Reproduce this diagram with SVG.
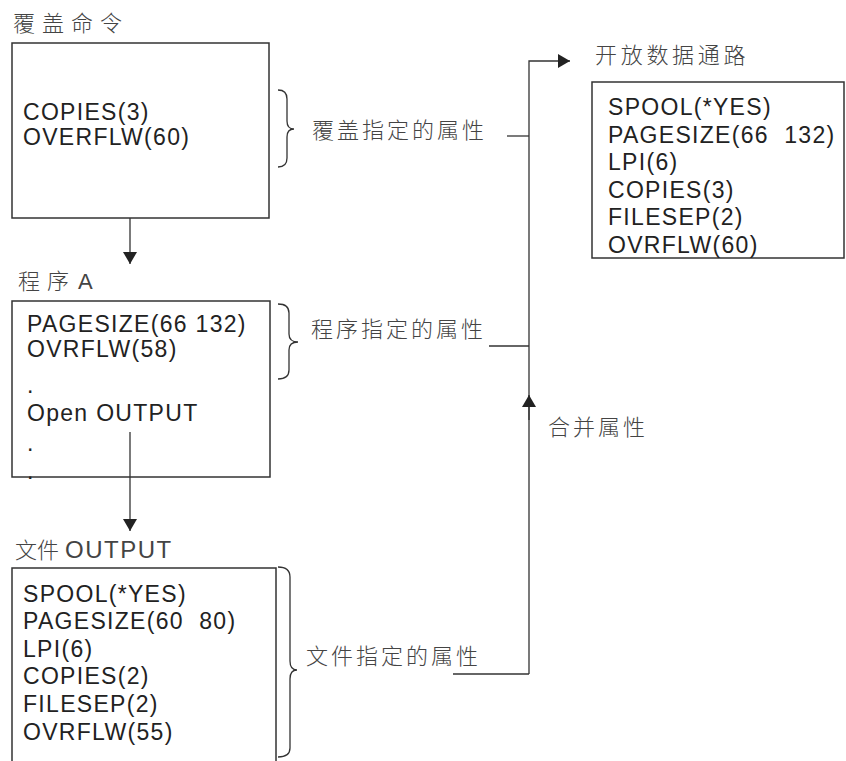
<svg xmlns="http://www.w3.org/2000/svg" width="846" height="761" viewBox="0 0 846 761">
  <style>
    .box { fill: #fff; stroke: #333; stroke-width: 1.5; }
    .attr { font-family: "Liberation Sans", Arial, "Noto Sans CJK SC", sans-serif; font-size: 23px; letter-spacing: 1.3px; fill: #222; white-space: pre; }
    .title { font-family: "Liberation Sans", "Noto Sans CJK SC", sans-serif; font-size: 22px; fill: #444; font-weight: 300; letter-spacing: 7px; }
    .label { font-family: "Noto Sans CJK SC", sans-serif; font-size: 22px; fill: #444; font-weight: 300; letter-spacing: 3px; }
    .wire { fill: none; stroke: #333; stroke-width: 1.3; }
    .brace { fill: none; stroke: #333; stroke-width: 1.3; }
  </style>
  <defs>
    <marker id="head" markerUnits="userSpaceOnUse" markerWidth="14" markerHeight="15" refX="13" refY="7.5" orient="auto">
      <path d="M1,0.5 L13,7.5 L1,14.5 Z" fill="#222"/>
    </marker>
  </defs>

  <rect width="846" height="761" fill="#fff"/>

  <!-- Override command -->
  <g id="override-cmd">
    <text class="title" x="13" y="31">覆盖命令</text>
    <rect class="box" x="12" y="43" width="257" height="175"/>
    <text class="attr" x="23" y="120">COPIES(3)</text>
    <text class="attr" x="23" y="145">OVERFLW(60)</text>
  </g>

  <!-- Program A -->
  <g id="program-a">
    <text class="title" x="18" y="289">程序<tspan x="78">A</tspan></text>
    <rect class="box" x="12" y="301" width="258" height="176"/>
    <text class="attr" x="27" y="332">PAGESIZE(66 132)</text>
    <text class="attr" x="27" y="357">OVRFLW(58)</text>
    <text class="attr" x="27" y="393">.</text>
    <text class="attr" x="27" y="421">Open OUTPUT</text>
    <text class="attr" x="27" y="451">.</text>
    <text class="attr" x="27" y="479">.</text>
  </g>

  <!-- File OUTPUT -->
  <g id="file-output">
    <text class="title" x="15" y="558" style="letter-spacing:0">文件<tspan x="65" style="font-size:24px;letter-spacing:1.5px">OUTPUT</tspan></text>
    <rect class="box" x="12" y="568" width="264" height="210"/>
    <text class="attr" x="23" y="602">SPOOL(*YES)</text>
    <text class="attr" x="23" y="629" xml:space="preserve">PAGESIZE(60  80)</text>
    <text class="attr" x="23" y="657">LPI(6)</text>
    <text class="attr" x="23" y="684">COPIES(2)</text>
    <text class="attr" x="23" y="712">FILESEP(2)</text>
    <text class="attr" x="23" y="740">OVRFLW(55)</text>
  </g>

  <!-- Open data path -->
  <g id="open-data-path">
    <text class="title" x="595" y="63" style="letter-spacing:3.7px">开放数据通路</text>
    <rect class="box" x="592" y="82" width="252" height="176"/>
    <text class="attr" x="608" y="115">SPOOL(*YES)</text>
    <text class="attr" x="608" y="143" xml:space="preserve">PAGESIZE(66  132)</text>
    <text class="attr" x="608" y="170">LPI(6)</text>
    <text class="attr" x="608" y="198">COPIES(3)</text>
    <text class="attr" x="608" y="225">FILESEP(2)</text>
    <text class="attr" x="608" y="253">OVRFLW(60)</text>
  </g>

  <!-- Attribute groups: braces and labels -->
  <g id="override-attrs">
    <path class="brace" d="M278,90 Q287,90 287,99 V121 Q287,129 294,129 Q287,129 287,137 V158 Q287,167 278,167"/>
    <text class="label" x="312" y="138">覆盖指定的属性</text>
  </g>
  <g id="program-attrs">
    <path class="brace" d="M278,304 Q289,304 289,313 V334 Q289,342 298,342 Q289,342 289,350 V370 Q289,379 278,379"/>
    <text class="label" x="311" y="337">程序指定的属性</text>
  </g>
  <g id="file-attrs">
    <path class="brace" d="M278,567 Q290,567 290,577 V661 Q290,670 297,670 Q290,670 290,679 V748 Q290,757 278,757"/>
    <text class="label" x="306" y="664">文件指定的属性</text>
  </g>
  <g id="merge-label">
    <text class="label" x="548" y="435">合并属性</text>
  </g>

  <!-- Connectors -->
  <g id="connectors">
    <path class="wire" d="M130,218 V264" marker-end="url(#head)"/>
    <path class="wire" d="M130,432 V531" marker-end="url(#head)"/>
    <path class="wire" d="M529,674 V61 H570" marker-end="url(#head)"/>
    <path class="wire" d="M507,136 H529"/>
    <path class="wire" d="M489,346 H529"/>
    <path class="wire" d="M453,674 H529"/>
    <path class="wire" d="M529,420 V395" marker-end="url(#head)"/>
  </g>
</svg>
